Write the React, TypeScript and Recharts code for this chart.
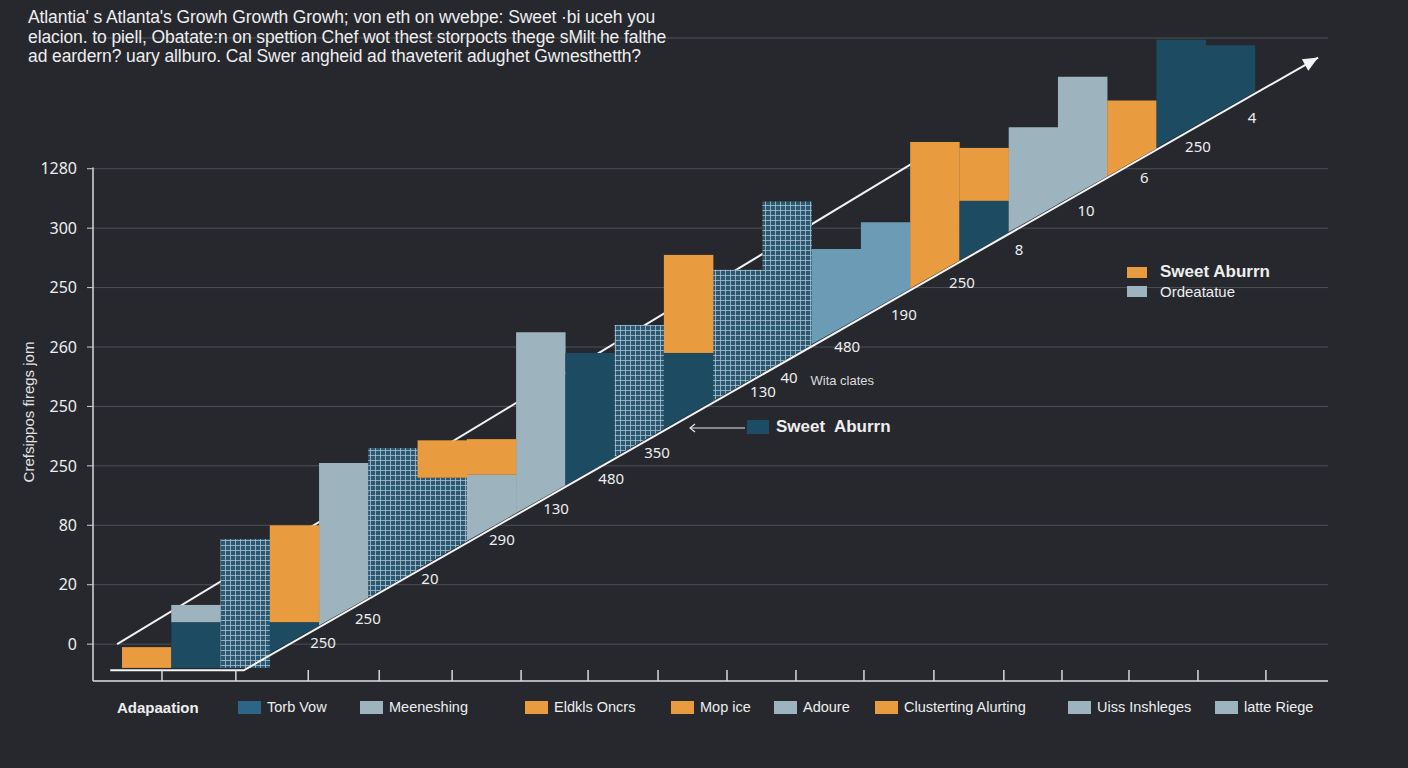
import {
  Bar,
  CartesianGrid,
  Cell,
  ComposedChart,
  Line,
  ReferenceLine,
  Scatter,
  XAxis,
  YAxis,
} from "recharts";

const BG = "#26282e";
const INK = "#eeeeee";
const NUM_FONT = '"Noto Sans", "DejaVu Sans", sans-serif';
const TEXT_FONT = '"Liberation Sans", Arial, sans-serif';

const palette: Record<string, string> = {
  orange: "#e99b3f",
  teal: "#1c4b62",
  blue: "#2c6585",
  light: "#9db3be",
  mid: "#6b9bb5",
  grid: "url(#winGrid)",
};

const titleLines = [
  "Atlantia' s Atlanta's Growh Growth Growh; von eth on wvebpe:  Sweet ·bi uceh you",
  "elacion. to piell, Obatate:n on spettion Chef wot thest storpocts thege sMilt he falthe",
  "ad eardern? uary allburo. Cal Swer angheid ad thaveterit adughet Gwnesthetth?",
];

const yTickLabels = ["0", "20", "80", "250", "250", "260", "250", "300", "1280"];
const yTicks = [0, 1, 2, 3, 4, 5, 6, 7, 8];
const xTicks = [0.81, 2.31, 3.78, 5.22, 6.7, 8.1, 9.46, 10.88, 12.28, 13.68, 15.06, 16.48, 17.9, 19.08, 20.44, 21.84, 23.22];

// each column: where it sits on the rising baseline, and its one or two blocks
const groundLevel = -0.4;
const baseLevel = [-0.4, -0.4, -0.4, 0.08, 0.55, 1.02, 1.5, 1.97, 2.44, 2.91, 3.39, 3.86, 4.33, 4.8, 5.28, 5.75, 6.22, 6.69, 7.17, 7.64, 8.11, 8.59, 9.06];
const lowerTop = [-0.05, 0.37, 1.77, 0.37, 3.05, 3.3, 2.8, 2.85, 5.25, 4.9, 5.37, 4.9, 6.3, 7.45, 6.65, 7.1, 8.45, 7.46, 8.7, 9.55, 9.15, 10.17, 10.08];
const lowerKind = ["orange", "teal", "grid", "teal", "light", "grid", "grid", "light", "light", "teal", "grid", "teal", "grid", "grid", "mid", "mid", "orange", "teal", "light", "light", "orange", "teal", "teal"];
const upperTop: (number | null)[] = [null, 0.66, null, 2.0, null, null, 3.43, 3.45, null, null, null, 6.55, null, null, null, null, null, 8.35, null, null, null, null, null];
const upperKind = ["", "light", "", "orange", "", "", "orange", "orange", "", "", "", "orange", "", "", "", "", "", "orange", "", "", "", "", ""];

const baselineX = [-0.24, 2.47, 24.28];
const baselineY = [-0.44, -0.44, 9.87];
const risingX = [-0.1, 16.06];
const risingY = [0, 8.1];

const diagLabels = ["250", "250", "20", "290", "130", "480", "350", "130", "40", "480", "190", "250", "8", "10", "6", "250", "4"];
const diagX = [4.08, 4.99, 6.25, 7.71, 8.81, 9.93, 10.86, 13.01, 13.54, 14.72, 15.87, 17.05, 18.21, 19.57, 20.75, 21.84, 22.94];
const diagY = [0.03, 0.44, 1.11, 1.77, 2.29, 2.79, 3.23, 4.26, 4.49, 5.02, 5.56, 6.09, 6.65, 7.31, 7.86, 8.38, 8.87];

const legendText = "Adapaation";
const legendLabels = ["Torb Vow", "Meeneshing", "Eldkls Oncrs", "Mop ice", "Adoure", "Clusterting Alurting", "Uiss Inshleges", "latte Riege"];
const legendKinds = ["blue", "light", "orange", "orange", "light", "orange", "light", "light"];
const legendLeft = [238, 360, 525, 671, 774, 875, 1068, 1215];

const columns = baseLevel.map((b, i) => ({
  col: i,
  base: b,
  lo: lowerTop[i] - b,
  hi: upperTop[i] == null ? 0 : (upperTop[i] as number) - lowerTop[i],
}));
const baseline = baselineX.map((x, i) => ({ x, y: baselineY[i] }));
const rising = risingX.map((x, i) => ({ x, y: risingY[i] }));
const diagPoints = diagX.map((x, i) => ({ x, y: diagY[i], label: diagLabels[i] }));
const notePoints = [{ x: 14.62, y: 4.44, label: "Wita clates" }];

function SlantBar(props: any) {
  const { x, y, width: w, height: h, fill, payload } = props;
  if (!h) return <g />;
  if (payload.base <= groundLevel) return <rect x={x} y={y} width={w + 0.5} height={h} fill={fill} />;
  const s = (w * 0.57) / 2;
  return <path d={`M${x},${y}H${x + w + 0.5}V${y + h - s}L${x},${y + h + s}Z`} fill={fill} />;
}

function PlainBar(props: any) {
  const { x, y, width: w, height: h, fill } = props;
  if (!h) return <g />;
  return <rect x={x} y={y} width={w + 0.5} height={h} fill={fill} />;
}

function ArrowDot(props: any) {
  const { cx, cy, index } = props;
  if (index !== baseline.length - 1) return <g key={index} />;
  return (
    <path
      key={index}
      d="M0,0L-15,-6.5L-15,6.5Z"
      fill="#f4f4f4"
      transform={`translate(${cx},${cy}) rotate(-29.6)`}
    />
  );
}

function NumberLabel(props: any) {
  const { cx, cy, payload } = props;
  return (
    <text x={cx} y={cy} textAnchor="middle" dominantBaseline="central" fill={INK} fontSize={15} fontFamily={NUM_FONT}>
      {payload.label}
    </text>
  );
}

function NoteLabel(props: any) {
  const { cx, cy, payload } = props;
  return (
    <text x={cx} y={cy} textAnchor="middle" dominantBaseline="central" fill="#dcdcdc" fontSize={13} fontFamily={TEXT_FONT}>
      {payload.label}
    </text>
  );
}

export default function App() {
  return (
    <div
      style={{
        position: "absolute",
        left: 0,
        top: 0,
        width: 1408,
        height: 768,
        background: BG,
        overflow: "hidden",
        fontFamily: TEXT_FONT,
        color: INK,
      }}
    >
      <ComposedChart
        width={1408}
        height={768}
        data={columns}
        barCategoryGap={0}
        barGap={0}
        margin={{ top: 38, right: 80, bottom: 87, left: 33 }}
        style={{ position: "absolute", left: 0, top: 0 }}
      >
        <defs>
          <pattern id="winGrid" width="5" height="5" patternUnits="userSpaceOnUse">
            <rect width="5" height="5" fill="#2b5870" />
            <path d="M0,0.5H5M0.5,0V5" stroke="#a9c3d0" strokeWidth="0.8" />
          </pattern>
        </defs>
        <CartesianGrid vertical={false} stroke="#4d5057" xAxisId="num" />
        <XAxis xAxisId="cols" type="category" dataKey="col" hide padding={{ left: 29, right: 73 }} />
        <XAxis
          xAxisId="num"
          type="number"
          dataKey="x"
          domain={[-0.59, 24.48]}
          allowDataOverflow
          ticks={xTicks}
          interval={0}
          tickFormatter={() => ""}
          tickSize={11}
          mirror
          height={30}
          axisLine={{ stroke: "#d8d8d8", strokeWidth: 1.5 }}
          tickLine={{ stroke: "#d8d8d8", strokeWidth: 1.5 }}
        />
        <YAxis
          type="number"
          domain={[-0.62, 10.2]}
          allowDataOverflow
          ticks={yTicks}
          interval={0}
          tickFormatter={(v: number) => yTickLabels[v] ?? ""}
          width={60}
          axisLine={false}
          tickLine={{ stroke: "#d0d0d0" }}
          tickSize={6}
          tickMargin={10}
          tick={{ fill: INK, fontSize: 16, fontFamily: NUM_FONT }}
        />
        <ReferenceLine
          xAxisId="num"
          segment={[
            { x: -0.59, y: 8.02 },
            { x: -0.59, y: -0.62 },
          ]}
          stroke="#d8d8d8"
          strokeWidth={1.5}
          ifOverflow="visible"
        />
        <Line
          xAxisId="num"
          data={rising}
          dataKey="y"
          type="linear"
          stroke="#f2f2f2"
          strokeWidth={2}
          dot={false}
          activeDot={false}
          isAnimationActive={false}
          zIndex={50}
        />
        <Bar xAxisId="cols" dataKey="base" stackId="s" fill="transparent" isAnimationActive={false} />
        <Bar xAxisId="cols" dataKey="lo" stackId="s" shape={SlantBar} isAnimationActive={false}>
          {columns.map((_, i) => (
            <Cell key={i} fill={palette[lowerKind[i]]} />
          ))}
        </Bar>
        <Bar xAxisId="cols" dataKey="hi" stackId="s" shape={PlainBar} isAnimationActive={false}>
          {columns.map((_, i) => (
            <Cell key={i} fill={palette[upperKind[i]] ?? "transparent"} />
          ))}
        </Bar>
        <Line
          xAxisId="num"
          data={baseline}
          dataKey="y"
          type="linear"
          stroke="#f4f4f4"
          strokeWidth={2}
          dot={ArrowDot}
          activeDot={false}
          isAnimationActive={false}
        />
        <Scatter xAxisId="num" data={diagPoints} dataKey="y" shape={NumberLabel} isAnimationActive={false} />
        <Scatter xAxisId="num" data={notePoints} dataKey="y" shape={NoteLabel} isAnimationActive={false} />
      </ComposedChart>

      {/* title */}
      <div style={{ position: "absolute", left: 28, top: 8, fontSize: 17.5, lineHeight: "19.5px", whiteSpace: "nowrap", letterSpacing: -0.1 }}>
        {titleLines.map((t, i) => (
          <div key={i}>{t}</div>
        ))}
      </div>

      {/* y axis title */}
      <div
        style={{
          position: "absolute",
          left: 28,
          top: 412,
          transform: "translate(-50%, -50%) rotate(-90deg)",
          whiteSpace: "nowrap",
          fontSize: 15,
          color: "#e2e2e2",
        }}
      >
        Crefsippos firegs jom
      </div>

      {/* right legend */}
      <div style={{ position: "absolute", left: 1127, top: 262, fontSize: 17, fontWeight: 600, display: "flex", alignItems: "center" }}>
        <span style={{ width: 20, height: 11, background: palette.orange, display: "inline-block", marginRight: 13 }} />
        Sweet Aburrn
      </div>
      <div style={{ position: "absolute", left: 1127, top: 283, fontSize: 15, display: "flex", alignItems: "center" }}>
        <span style={{ width: 20, height: 11, background: palette.light, display: "inline-block", marginRight: 13 }} />
        Ordeatatue
      </div>

      {/* middle callout */}
      <svg width={60} height={12} style={{ position: "absolute", left: 687, top: 422 }}>
        <path d="M3,6H58" stroke="#e8e8e8" strokeWidth={1.2} />
        <path d="M8,2L3,6L8,10" stroke="#e8e8e8" strokeWidth={1.2} fill="none" />
      </svg>
      <div style={{ position: "absolute", left: 747, top: 417, fontSize: 17, fontWeight: 600, display: "flex", alignItems: "center", whiteSpace: "pre" }}>
        <span style={{ width: 22, height: 14, background: "#1d4d66", display: "inline-block", marginRight: 7 }} />
        {"Sweet  Aburrn"}
      </div>

      {/* bottom legend */}
      <div style={{ position: "absolute", left: 117, top: 699, fontSize: 15, fontWeight: 600 }}>{legendText}</div>
      {legendLabels.map((l, i) => (
        <div
          key={l}
          style={{ position: "absolute", left: legendLeft[i], top: 699, fontSize: 14.5, display: "flex", alignItems: "center", whiteSpace: "nowrap" }}
        >
          <span style={{ width: 23, height: 13, background: palette[legendKinds[i]], display: "inline-block", marginRight: 6 }} />
          {l}
        </div>
      ))}
    </div>
  );
}
